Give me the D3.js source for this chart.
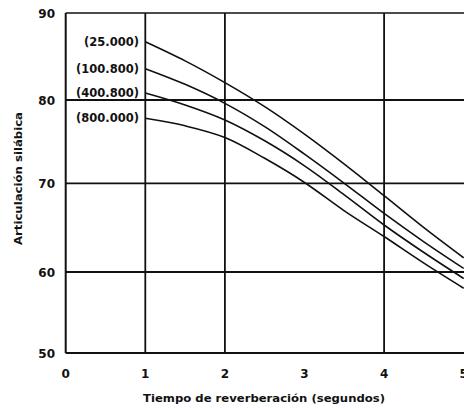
<!DOCTYPE html>
<html>
<head>
<meta charset="utf-8">
<script src="https://cdn.jsdelivr.net/npm/d3@7"></script>
<style>
  html, body { margin: 0; padding: 0; background: #fff; }
  svg { display: block; }
  text { font-family: "DejaVu Sans", sans-serif; font-weight: bold; fill: #111; }
</style>
</head>
<body>
<svg id="chart" width="464" height="408"></svg>
<script>
// ---- data ----
const tiempos = [1, 1.5, 2, 2.5, 3, 3.5, 4, 4.5, 5];
const serie25000  = [86.7, 84.5, 82.0, 79.2, 75.9, 72.3, 68.6, 65.0, 61.6];
const serie100800 = [83.6, 81.8, 79.6, 76.8, 73.5, 70.0, 66.6, 63.4, 60.4];
const serie400800 = [80.8, 79.4, 77.6, 75.1, 72.1, 68.7, 65.3, 62.2, 59.2];
const serie800000 = [77.8, 76.9, 75.5, 73.0, 70.1, 66.9, 64.0, 61.0, 58.0];
const etiquetas = ["(25.000)", "(100.800)", "(400.800)", "(800.000)"];
const yTicks = [50, 60, 70, 80, 90];
const xTicks = [0, 1, 2, 3, 4, 5];
const xGrid = [1, 2, 4];
const yGrid = [60, 70, 80];
const xTitle = "Tiempo de reverberación (segundos)";
const yTitle = "Articulación silábica";

const series = [serie25000, serie100800, serie400800, serie800000];

// ---- scales ----
const x = d3.scaleLinear().domain([0, 5]).range([65.7, 463.7]);
const y = d3.scaleLinear().domain([50, 60, 70, 80, 90]).range([353, 272, 183.3, 100, 13]);

const svg = d3.select("#chart");

// frame: left axis, bottom axis, top border
const g = svg.append("g");
g.append("line").attr("x1", x(0)).attr("x2", x(0)).attr("y1", y(90)).attr("y2", y(50))
  .attr("stroke", "#111").attr("stroke-width", 2);
g.append("line").attr("x1", x(0)).attr("x2", 464).attr("y1", y(50)).attr("y2", y(50))
  .attr("stroke", "#111").attr("stroke-width", 2);
g.append("line").attr("x1", x(0)).attr("x2", 464).attr("y1", y(90)).attr("y2", y(90))
  .attr("stroke", "#111").attr("stroke-width", 1.5);

// grid
g.selectAll(".vg").data(xGrid).enter().append("line")
  .attr("x1", d => x(d)).attr("x2", d => x(d))
  .attr("y1", y(90)).attr("y2", y(50))
  .attr("stroke", "#111").attr("stroke-width", 1.8);
g.selectAll(".hg").data(yGrid).enter().append("line")
  .attr("x1", x(0)).attr("x2", 464)
  .attr("y1", d => y(d)).attr("y2", d => y(d))
  .attr("stroke", "#111").attr("stroke-width", 1.8);

// tick labels
svg.selectAll(".yt").data(yTicks).enter().append("text")
  .attr("x", 55).attr("y", d => y(d) + 4.5)
  .attr("text-anchor", "end").attr("font-size", 12)
  .text(d => d);
svg.selectAll(".xt").data(xTicks).enter().append("text")
  .attr("x", d => x(d)).attr("y", 378)
  .attr("text-anchor", "middle").attr("font-size", 12)
  .text(d => d);

// axis titles
svg.append("text")
  .attr("x", 143).attr("y", 402)
  .attr("font-size", 10.5)
  .attr("textLength", 242).attr("lengthAdjust", "spacingAndGlyphs")
  .text(xTitle);
svg.append("text")
  .attr("transform", "translate(22,245) rotate(-90)")
  .attr("font-size", 10.5)
  .attr("textLength", 133).attr("lengthAdjust", "spacingAndGlyphs")
  .text(yTitle);

// curves
const line = d3.line()
  .x((d, i) => x(tiempos[i]))
  .y(d => y(d))
  .curve(d3.curveCatmullRom.alpha(0.5));

svg.append("defs").append("clipPath").attr("id", "clip")
  .append("rect").attr("x", x(0)).attr("y", 0).attr("width", 464).attr("height", y(50));

svg.append("g").attr("clip-path", "url(#clip)")
  .selectAll("path").data(series).enter().append("path")
  .attr("d", d => line(d))
  .attr("fill", "none").attr("stroke", "#111").attr("stroke-width", 1.6);

// series labels
svg.selectAll(".lab").data(series).enter().append("text")
  .attr("x", 139)
  .attr("y", d => y(d[0]) + 4)
  .attr("text-anchor", "end")
  .attr("font-size", 11.5)
  .text((d, i) => etiquetas[i]);
</script>
</body>
</html>
